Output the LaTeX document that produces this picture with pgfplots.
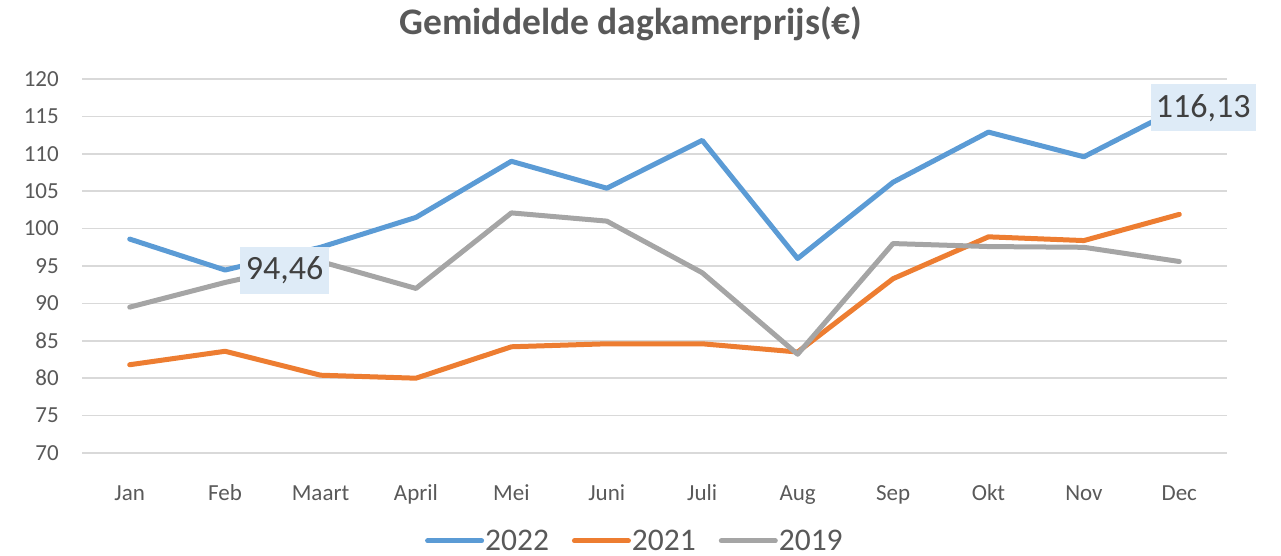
\documentclass[border=0pt]{standalone}
\usepackage{pgfplots}
\pgfplotsset{compat=1.18}
\usepackage{fontspec}
\setmainfont{Carlito}
\definecolor{c2022}{HTML}{5B9BD5}
\definecolor{c2021}{HTML}{ED7D31}
\definecolor{c2019}{HTML}{A5A5A5}
\definecolor{gridc}{HTML}{D9D9D9}
\definecolor{txt}{HTML}{595959}
\definecolor{lbl}{HTML}{404040}
\definecolor{lblfill}{HTML}{DEEBF7}
\begin{document}
\begin{tikzpicture}[x=1pt,y=1pt]
\useasboundingbox (0,0) rectangle (1281,556);
\node[anchor=base,text=txt,font=\fontsize{37.5}{44}\selectfont\bfseries,inner sep=0] at (631,521) {Gemiddelde dagkamerprijs(€)};
\begin{axis}[
  at={(82pt,103pt)}, anchor=south west,
  scale only axis, width=1145pt, height=374pt,
  xmin=-0.5, xmax=11.5, ymin=70, ymax=120,
  xtick={0,...,11},
  xticklabels={Jan,Feb,Maart,April,Mei,Juni,Juli,Aug,Sep,Okt,Nov,Dec},
  ytick={70,75,...,120},
  ymajorgrids, major grid style={gridc,line width=1.5pt},
  axis line style={draw=none},
  major tick length=0pt,
  /pgf/number format/assume math mode=true,
  yticklabel style={font=\fontsize{23}{27}\selectfont,text=txt,anchor=east,inner sep=0pt,xshift=-23pt},
  xticklabel style={font=\fontsize{23}{27}\selectfont,text=txt,anchor=base,inner sep=0pt,yshift=-48pt},
  clip=false,
  legend columns=-1,
  legend style={at={(0.482,-0.235)},anchor=center,draw=none,fill=none,
    font=\fontsize{31.5}{36}\selectfont,text=txt,
    /tikz/every odd column/.append style={column sep=1pt},
    /tikz/every even column/.append style={column sep=23pt},
    nodes={inner sep=0pt}},
  legend image code/.code={\draw[#1,line width=5pt,line cap=round] (0pt,0pt) -- (54pt,0pt);},
  every axis plot/.append style={line width=5pt,line join=round,line cap=round,mark=none},
]
\addplot[c2022] coordinates {(0,98.6) (1,94.46) (2,97.5) (3,101.5) (4,109.0) (5,105.4) (6,111.8) (7,96.0) (8,106.2) (9,112.9) (10,109.6) (11,116.13)};
\addlegendentry{2022}
\addplot[c2021] coordinates {(0,81.8) (1,83.6) (2,80.4) (3,80.0) (4,84.2) (5,84.6) (6,84.6) (7,83.5) (8,93.3) (9,98.9) (10,98.4) (11,101.9)};
\addlegendentry{2021}
\addplot[c2019] coordinates {(0,89.5) (1,92.8) (2,95.6) (3,92.0) (4,102.1) (5,101.0) (6,94.1) (7,83.2) (8,98.0) (9,97.6) (10,97.5) (11,95.6)};
\addlegendentry{2019}
\node[fill=lblfill,text=lbl,font=\fontsize{34}{40}\selectfont,inner xsep=5.5pt,inner ysep=0pt,minimum height=47pt,xshift=59.5pt] at (axis cs:1,94.46) {94,46};
\node[fill=lblfill,text=lbl,font=\fontsize{34}{40}\selectfont,inner xsep=5pt,inner ysep=0pt,minimum height=47pt,xshift=24pt] at (axis cs:11,116.13) {116,13};
\end{axis}
\end{tikzpicture}
\end{document}
